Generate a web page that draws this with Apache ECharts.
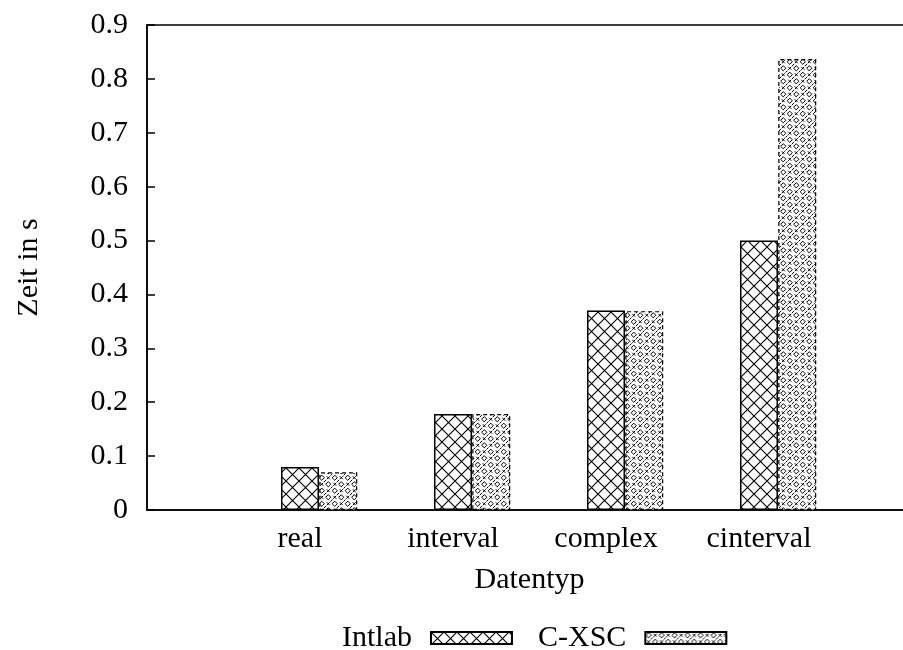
<!DOCTYPE html>
<html>
<head>
<meta charset="utf-8">
<script src="https://cdn.jsdelivr.net/npm/echarts@6/dist/echarts.min.js"></script>
<style>html,body{margin:0;padding:0;background:#fff}#c{width:903px;height:650px}</style>
</head>
<body>
<div id="c"></div>
<script>
const categories = ['real', 'interval', 'complex', 'cinterval'];
const intlab = [0.080, 0.178, 0.370, 0.500];
const cxsc = [0.070, 0.178, 0.369, 0.837];
const yTicks = ['0', '0.1', '0.2', '0.3', '0.4', '0.5', '0.6', '0.7', '0.8', '0.9'];
const seriesNames = ['Intlab', 'C-XSC'];

const FONT = '"Liberation Serif", "DejaVu Serif", serif';
const FS = 30;

function crossTile() {
  const s = 13;
  const c = document.createElement('canvas');
  c.width = s; c.height = s;
  const g = c.getContext('2d');
  g.fillStyle = '#fff'; g.fillRect(0, 0, s, s);
  g.strokeStyle = '#000'; g.lineWidth = 1.1;
  g.beginPath();
  g.moveTo(0, 0); g.lineTo(s, s);
  g.moveTo(s, 0); g.lineTo(0, s);
  g.stroke();
  return c;
}
function dotTile() {
  const s = 13;
  const c = document.createElement('canvas');
  c.width = s; c.height = s;
  const g = c.getContext('2d');
  g.fillStyle = '#fff'; g.fillRect(0, 0, s, s);
  g.strokeStyle = '#000'; g.lineWidth = 1;
  function diamond(x, y, r) {
    g.beginPath();
    g.moveTo(x, y - r); g.lineTo(x + r, y); g.lineTo(x, y + r); g.lineTo(x - r, y); g.closePath();
    g.stroke();
  }
  function cross(x, y, r) {
    g.beginPath();
    g.moveTo(x - r, y - r); g.lineTo(x + r, y + r);
    g.moveTo(x + r, y - r); g.lineTo(x - r, y + r);
    g.stroke();
  }
  diamond(3.25, 3.25, 2.6);
  diamond(9.75, 9.75, 2.6);
  cross(9.75, 3.25, 1.5);
  cross(3.25, 9.75, 1.5);
  g.beginPath();
  g.moveTo(5.5, 7.5); g.lineTo(7.5, 5.5);
  g.moveTo(12, 1); g.lineTo(13, 0);
  g.moveTo(0, 13); g.lineTo(1, 12);
  g.stroke();
  return c;
}

const chart = echarts.init(document.getElementById('c'), null, {renderer: 'canvas'});
chart.setOption({
  animation: false,
  backgroundColor: '#fff',
  textStyle: {fontFamily: FONT, color: '#000'},
  grid: {left: 147, top: 25, right: -9, bottom: 140, show: true, borderColor: '#000', borderWidth: 1.5, outerBoundsMode: 'none', containLabel: false},
  legend: {
    top: 618,
    left: 337,
    align: 'right',
    icon: 'rect',
    itemWidth: 81,
    itemHeight: 12,
    itemGap: 25,
    textStyle: {fontFamily: FONT, fontSize: FS, color: '#000', padding: [0, 14, 0, 0]},
    data: seriesNames
  },
  xAxis: {
    type: 'value', min: -1, max: 4, interval: 1,
    name: 'Datentyp', nameLocation: 'middle', nameGap: 55,
    nameTextStyle: {fontFamily: FONT, fontSize: FS, color: '#000'},
    axisLine: {show: true, onZero: false, lineStyle: {color: '#000', width: 1.5}},
    axisTick: {show: false},
    splitLine: {show: false},
    axisLabel: {
      fontFamily: FONT, fontSize: FS, color: '#000', margin: 14,
      formatter: v => (Number.isInteger(v) && categories[v] !== undefined) ? categories[v] : ''
    }
  },
  yAxis: {
    type: 'value', min: 0, max: 0.9, interval: 0.1,
    name: 'Zeit in s', nameLocation: 'middle', nameGap: 103,
    nameTextStyle: {fontFamily: FONT, fontSize: FS, color: '#000'},
    axisLine: {show: true, onZero: false, lineStyle: {color: '#000', width: 1.5}},
    axisTick: {show: true, inside: true, length: 8, lineStyle: {color: '#000', width: 1.5}},
    splitLine: {show: false},
    axisLabel: {
      fontFamily: FONT, fontSize: FS, color: '#000', margin: 19,
      formatter: v => yTicks[Math.round(v * 10)]
    }
  },
  series: [
    {
      name: seriesNames[0], type: 'bar', barWidth: 38, barGap: '-100%',
      itemStyle: {color: {image: crossTile(), repeat: 'repeat'}, borderColor: '#000', borderWidth: 1.5},
      data: categories.map((c, i) => [i, intlab[i]])
    },
    {
      name: seriesNames[1], type: 'bar', barWidth: 38, barGap: '-100%',
      itemStyle: {color: {image: dotTile(), repeat: 'repeat'}, borderColor: '#000', borderWidth: 1.2, borderType: [4, 3]},
      data: categories.map((c, i) => [i + 0.25, cxsc[i]])
    }
  ]
});
</script>
</body>
</html>
